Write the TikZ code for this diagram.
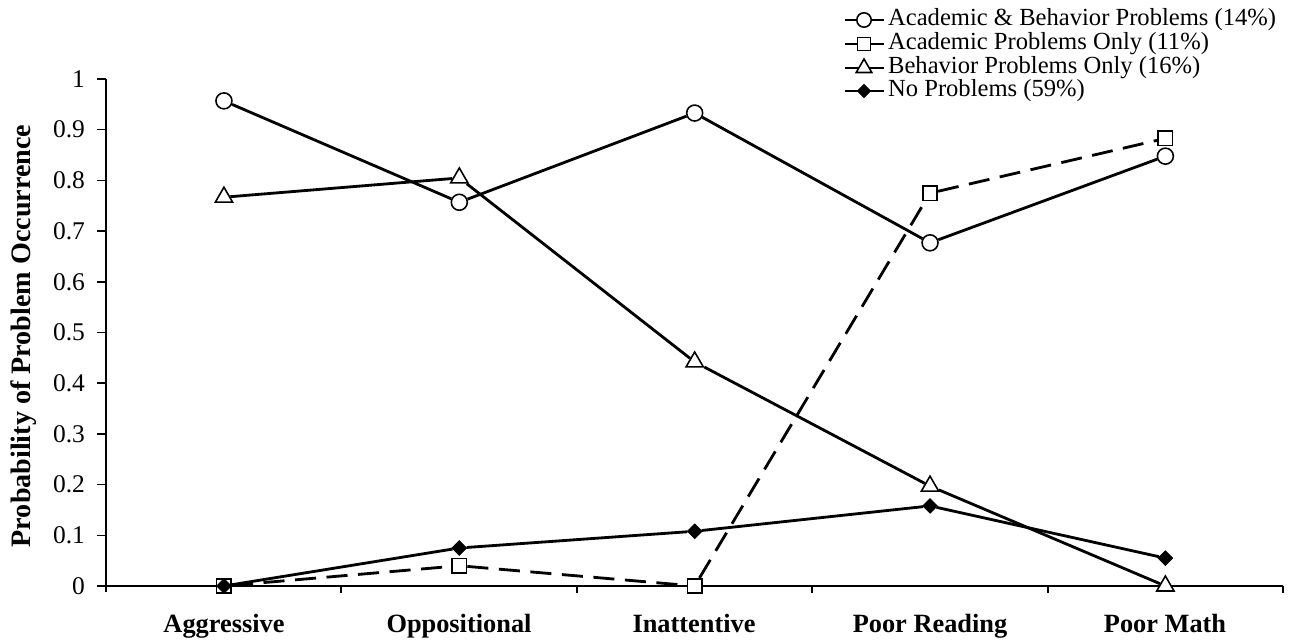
\documentclass[tikz,border=0pt]{standalone}
\usepackage{fontspec}
\setmainfont{Liberation Serif}
\usetikzlibrary{shapes.geometric}
\tikzstyle{abmark}=[circle,draw,fill=white,line width=0.9pt,minimum size=0.32cm,inner sep=0pt]
\tikzstyle{acmark}=[rectangle,draw,fill=white,line width=0.9pt,minimum size=0.29cm,inner sep=0pt]
\tikzstyle{bhmark}=[regular polygon,regular polygon sides=3,draw,fill=white,line width=0.9pt,minimum size=0.4cm,inner sep=0pt]
\tikzstyle{npmark}=[diamond,draw,fill=black,minimum size=0.3cm,inner sep=0pt]
\tikzstyle{series}=[draw,line width=1.6pt]
\tikzstyle{dseries}=[draw,line width=1.6pt,dash pattern=on 12pt off 6pt]
\tikzstyle{axis}=[draw,line width=0.9pt]
\tikzstyle{ticklabel}=[font=\fontsize{14.5}{17}\selectfont,anchor=east,inner sep=1pt]
\tikzstyle{catlabel}=[font=\fontsize{15}{18}\selectfont\bfseries,anchor=base]
\tikzstyle{legtext}=[font=\fontsize{14}{16}\selectfont,anchor=west,inner sep=1pt]

\begin{document}
\begin{tikzpicture}[x=0.02cm, y=-0.02cm]
   \useasboundingbox (0,0) rectangle (1300,644);

    % axes
    \path[axis] (106,79) -- (106,592);
    \path[axis] (106,586) -- (1283,586);
    \foreach \v in {0,0.1,0.2,0.3,0.4,0.5,0.6,0.7,0.8,0.9,1}
        \path[axis] (97,{586-507*\v}) -- (106,{586-507*\v});
    \foreach \v/ \name in {0/y0,0.1/y1,0.2/y2,0.3/y3,0.4/y4,0.5/y5,0.6/y6,0.7/y7,0.8/y8,0.9/y9,1/y10}
        \node[ticklabel] (\name) at (87,{586-507*\v}) {\v};
    \foreach \x in {341,577,812,1048,1283}
        \path[axis] (\x,586) -- (\x,593);

    \node[rotate=90,font=\fontsize{16}{19}\selectfont\bfseries] (ytitle) at (24,336) {Probability of Problem Occurrence};

    \foreach \pos/ \name/ \txt in {{(224,632)/c1/Aggressive},{(459,632)/c2/Oppositional},{(694,632)/c3/Inattentive},{(930,632)/c4/Poor Reading},{(1165,632)/c5/Poor Math}}
        \node[catlabel] (\name) at \pos {\txt};

 \begin{scope}[shift={(-11.4,586)}, x=4.708cm, y=10.14cm]
    % markers
    \foreach \i/ \v in {1/0.957, 2/0.757, 3/0.933, 4/0.677, 5/0.848}
        \node[abmark] (ab\i) at (\i,\v) {};
    \foreach \i/ \v in {1/0, 2/0.04, 3/0, 4/0.775, 5/0.883}
        \node[acmark] (ac\i) at (\i,\v) {};
    \foreach \i/ \v in {1/0.767, 2/0.805, 3/0.442, 4/0.197, 5/0}
        \node[bhmark] (bh\i) at (\i,\v) {};
    \foreach \i/ \v in {1/0, 2/0.075, 3/0.108, 4/0.158, 5/0.055}
        \node[npmark] (np\i) at (\i,\v) {};

    % connect markers
    \foreach \a/ \b in {1/2, 2/3, 3/4, 4/5}
    {
        \path[series] (ab\a) -- (ab\b);
        \path[dseries] (ac\a) -- (ac\b);
        \path[series] (bh\a) -- (bh\b);
        \path[series] (np\a) -- (np\b);
    }
 \end{scope}

    % legend
    \foreach \y/ \i in {20/1, 44/2, 68/3, 91/4}
    {
        \coordinate (lgl\i) at (845,\y);
        \coordinate (lgr\i) at (884,\y);
        \path[draw,line width=1.3pt] (lgl\i) -- (lgr\i);
    }
    \node[abmark,scale=0.9] (lg1) at (864,20) {};
    \node[acmark,scale=0.9] (lg2) at (864,44) {};
    \node[bhmark,scale=0.9] (lg3) at (864,68) {};
    \node[npmark,scale=0.9] (lg4) at (864,91) {};
    \node[legtext] (lt1) at (886,20) {Academic \& Behavior Problems (14\%)};
    \node[legtext] (lt2) at (886,44) {Academic Problems Only (11\%)};
    \node[legtext] (lt3) at (886,68) {Behavior Problems Only (16\%)};
    \node[legtext] (lt4) at (886,91) {No Problems (59\%)};

      \end{tikzpicture}
\end{document}
